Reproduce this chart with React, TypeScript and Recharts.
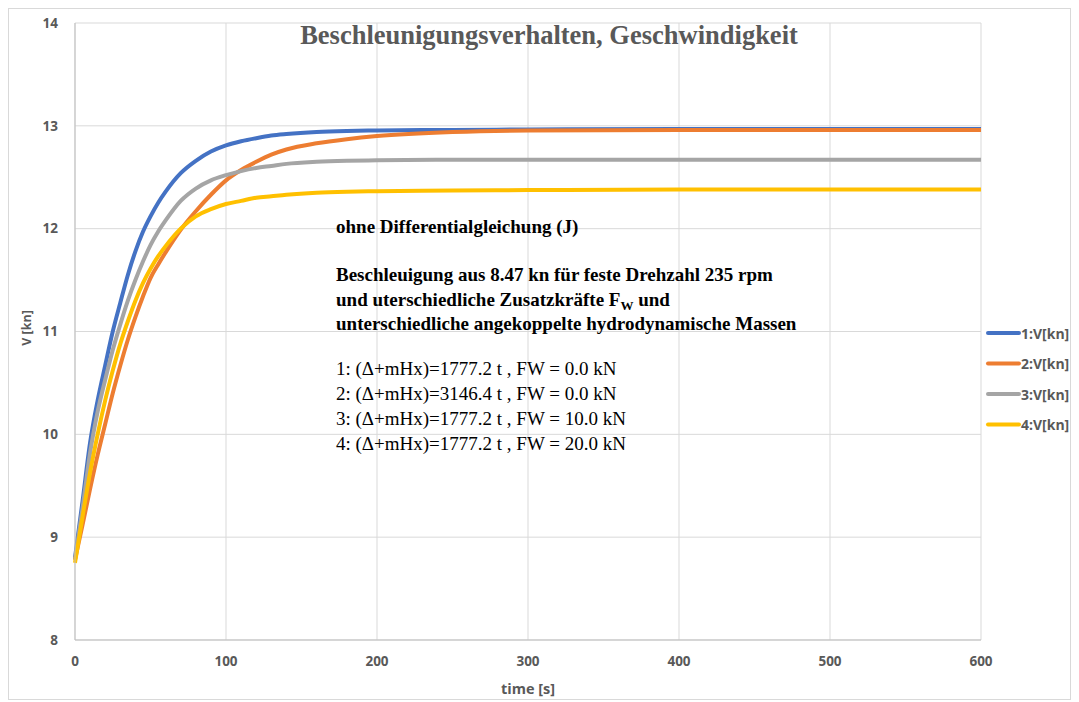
import React from "react";
import { LineChart, Line, XAxis, YAxis, CartesianGrid } from "recharts";

// Simulation time [s] at which the speed of every case was sampled
const TIME = [0, 5, 10, 15, 20, 25, 30, 35, 40, 45, 50, 55, 60, 70, 80, 90, 100, 110, 120, 130, 140, 160, 180, 200, 250, 300, 400, 500, 600];

// Speed V [kn] for the four cases
const V1 = [8.8, 9.35, 9.92, 10.33, 10.67, 11.0, 11.28, 11.55, 11.78, 11.97, 12.12, 12.25, 12.36, 12.54, 12.66, 12.75, 12.81, 12.85, 12.88, 12.905, 12.92, 12.94, 12.95, 12.955, 12.96, 12.965, 12.97, 12.97, 12.97];
const V2 = [8.78, 9.12, 9.47, 9.8, 10.1, 10.4, 10.67, 10.92, 11.14, 11.34, 11.52, 11.65, 11.77, 11.99, 12.17, 12.33, 12.47, 12.57, 12.65, 12.72, 12.77, 12.83, 12.87, 12.9, 12.94, 12.955, 12.96, 12.96, 12.96];
const V3 = [8.78, 9.28, 9.82, 10.22, 10.53, 10.82, 11.07, 11.3, 11.5, 11.68, 11.84, 11.97, 12.08, 12.27, 12.39, 12.47, 12.52, 12.56, 12.59, 12.61, 12.63, 12.65, 12.66, 12.665, 12.67, 12.67, 12.67, 12.67, 12.67];
const V4 = [8.75, 9.2, 9.63, 10.0, 10.33, 10.62, 10.88, 11.1, 11.3, 11.47, 11.61, 11.73, 11.83, 12.0, 12.12, 12.19, 12.24, 12.27, 12.3, 12.315, 12.33, 12.35, 12.36, 12.365, 12.37, 12.375, 12.38, 12.38, 12.38];

const X_TICKS = [0, 100, 200, 300, 400, 500, 600];
const Y_TICKS = [8, 9, 10, 11, 12, 13, 14];

const SERIES = [
  { key: "v1", name: "1:V[kn]", color: "#4472C4", values: V1 },
  { key: "v2", name: "2:V[kn]", color: "#ED7D31", values: V2 },
  { key: "v3", name: "3:V[kn]", color: "#A5A5A5", values: V3 },
  { key: "v4", name: "4:V[kn]", color: "#FFC000", values: V4 },
];

const TITLE = "Beschleunigungsverhalten, Geschwindigkeit";
const NOTE_HEAD = "ohne Differentialgleichung (J)";
const NOTE_CASES = [
  "1: (\u0394+mHx)=1777.2 t , FW = 0.0 kN",
  "2: (\u0394+mHx)=3146.4 t , FW = 0.0 kN",
  "3: (\u0394+mHx)=1777.2 t , FW = 10.0 kN",
  "4: (\u0394+mHx)=1777.2 t , FW = 20.0 kN",
];

const rows = TIME.map((t, i) => {
  const row: Record<string, number> = { t };
  SERIES.forEach((s) => (row[s.key] = s.values[i]));
  return row;
});

const W = 1061;
const H = 690;
const AXIS_GRAY = "#595959";
const SANS = "'Open Sans', Lato, sans-serif";
const SERIF = "'Liberation Serif', 'Times New Roman', serif";

export default function App() {
  return (
    <div style={{ position: "relative", width: W, height: H, border: "1px solid #d9d9d9", background: "#fff" }}>
      <LineChart width={W} height={H} data={rows} margin={{ top: 14, right: 89, bottom: 29, left: 26 }}>
        <CartesianGrid stroke="#d9d9d9" strokeWidth={1} />
        <XAxis
          dataKey="t"
          type="number"
          domain={[0, 600]}
          ticks={X_TICKS}
          height={30}
          tickSize={0}
          tickMargin={16}
          axisLine={{ stroke: "#bfbfbf" }}
          tick={{ fill: AXIS_GRAY, fontSize: 13.5, fontWeight: 700, fontFamily: SANS }}
        />
        <YAxis
          type="number"
          domain={[8, 14]}
          ticks={Y_TICKS}
          width={40}
          tickSize={0}
          tickMargin={17}
          axisLine={{ stroke: "#bfbfbf" }}
          tick={{ fill: AXIS_GRAY, fontSize: 13.5, fontWeight: 700, fontFamily: SANS }}
        />
        {SERIES.map((s) => (
          <Line
            key={s.key}
            dataKey={s.key}
            name={s.name}
            type="monotone"
            stroke={s.color}
            strokeWidth={4}
            dot={false}
            activeDot={false}
            isAnimationActive={false}
          />
        ))}
      </LineChart>

      <svg width={W} height={H} style={{ position: "absolute", left: 0, top: 0, pointerEvents: "none" }}>
        <text x={540} y={35} textAnchor="middle" fill={AXIS_GRAY} fontFamily={SERIF} fontWeight={700} fontSize={26.5}>
          {TITLE}
        </text>

        <g fontFamily={SERIF} fontSize={19} fill="#000">
          <text x={327} y={224} fontWeight={700}>{NOTE_HEAD}</text>
          <text x={327} y={272} fontWeight={700}>Beschleuigung aus 8.47 kn für feste Drehzahl 235 rpm</text>
          <text x={327} y={296.5} fontWeight={700}>
            und uterschiedliche Zusatzkräfte F
            <tspan fontSize={13} dy={4}>W</tspan>
            <tspan dy={-4}> und</tspan>
          </text>
          <text x={327} y={320.5} fontWeight={700}>unterschiedliche angekoppelte hydrodynamische Massen</text>
          {NOTE_CASES.map((line, i) => (
            <text key={line} x={327} y={366 + i * 25}>{line}</text>
          ))}
        </g>

        <text x={519} y={685} textAnchor="middle" fill={AXIS_GRAY} fontFamily={SANS} fontWeight={700} fontSize={14.5}>
          time [s]
        </text>
        <text
          transform="translate(17 319) rotate(-90)"
          textAnchor="middle"
          dominantBaseline="central"
          fill={AXIS_GRAY}
          fontFamily={SANS}
          fontWeight={700}
          fontSize={12.5}
        >
          V [kn]
        </text>

        {SERIES.map((s, i) => {
          const y = 324 + i * 30.5;
          return (
            <g key={s.key}>
              <line x1={979} x2={1010} y1={y} y2={y} stroke={s.color} strokeWidth={4} strokeLinecap="round" />
              <text x={1012} y={y} dominantBaseline="central" fill={AXIS_GRAY} fontFamily={SANS} fontWeight={700} fontSize={14}>
                {s.name}
              </text>
            </g>
          );
        })}
      </svg>
    </div>
  );
}
